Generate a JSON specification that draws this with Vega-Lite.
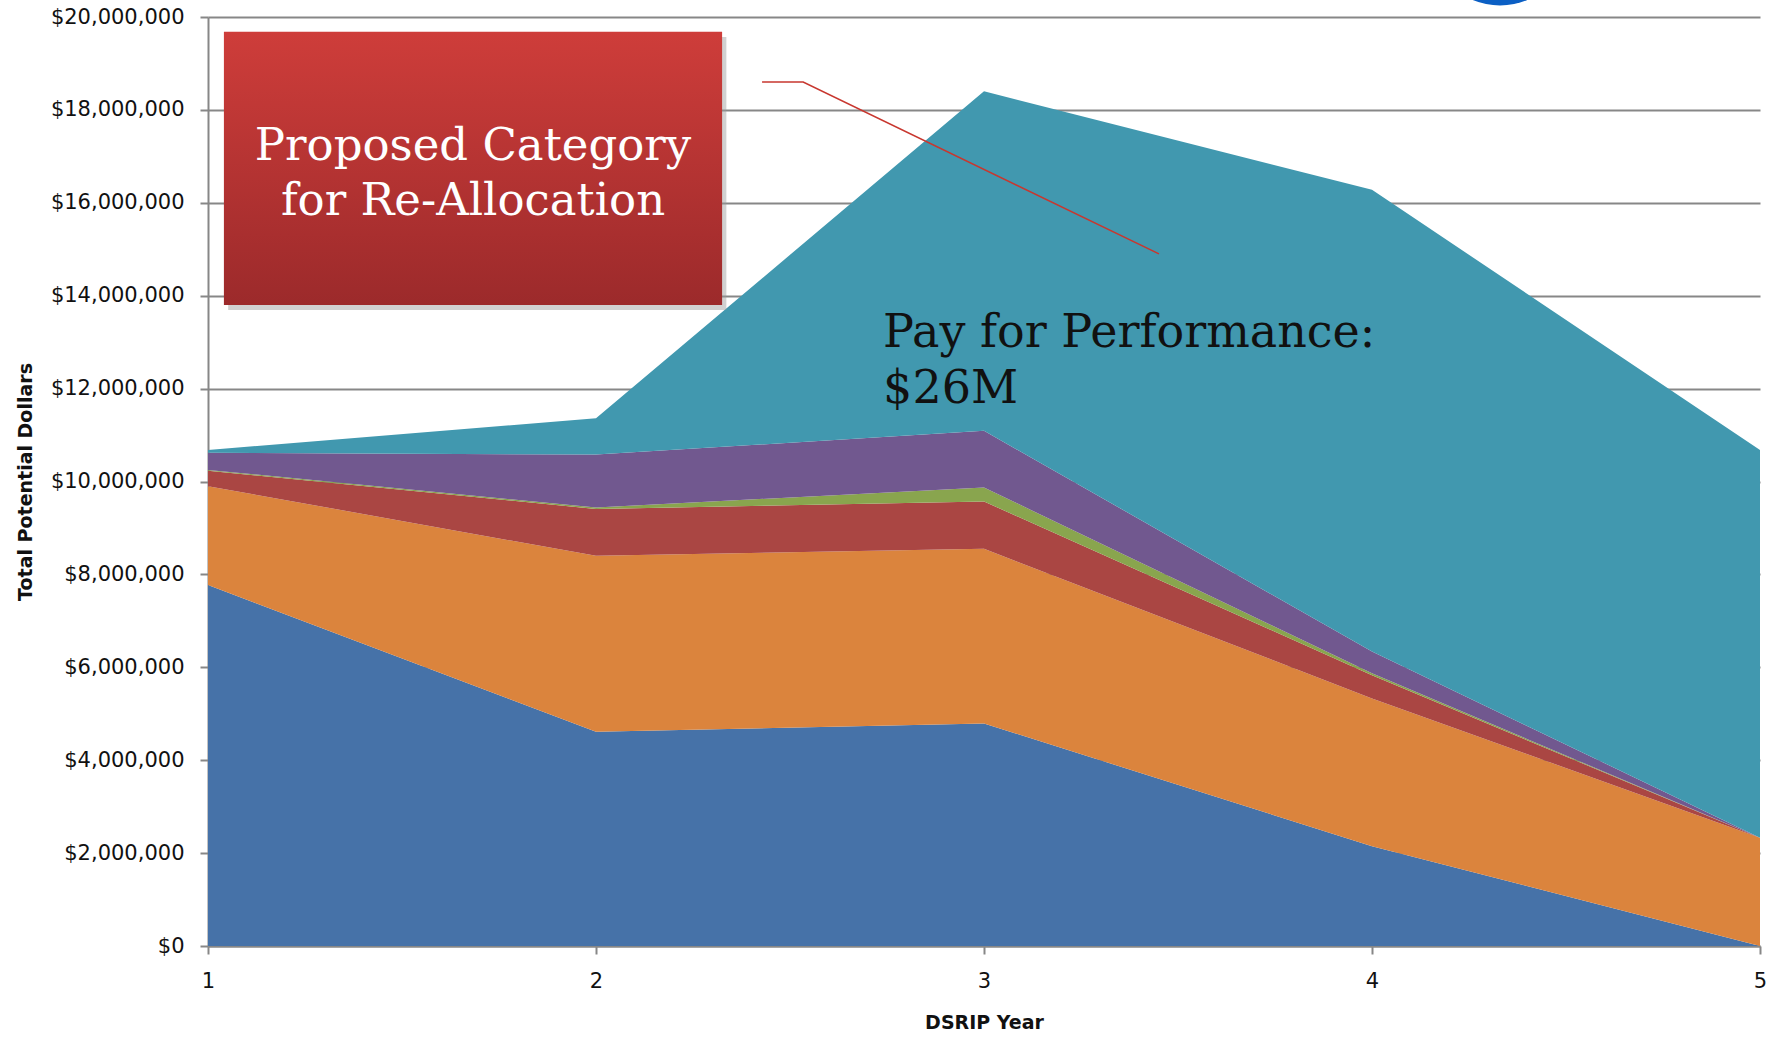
{
  "$schema": "https://vega.github.io/schema/vega-lite/v6.json",
  "autosize": "none",
  "width": 1552,
  "height": 929,
  "padding": {"left": 208, "top": 17, "right": 8, "bottom": 91},
  "background": "white",
  "config": {
    "view": {"stroke": null},
    "axis": {
      "gridColor": "#878787",
      "gridWidth": 2,
      "gridOpacity": 1,
      "domainColor": "#878787",
      "domainWidth": 2,
      "tickColor": "#878787",
      "tickWidth": 2,
      "tickSize": 8,
      "labelFont": "DejaVu Sans",
      "labelFontSize": 21,
      "labelColor": "#111111",
      "labelFlush": false,
      "titleFont": "DejaVu Sans",
      "titleFontSize": 19,
      "titleFontWeight": "bold",
      "titleColor": "#111111"
    }
  },
  "datasets": {
    "funding": [
      {"year": 1, "category": "Series 1", "rank": 1, "value": 7770000},
      {"year": 2, "category": "Series 1", "rank": 1, "value": 4610000},
      {"year": 3, "category": "Series 1", "rank": 1, "value": 4790000},
      {"year": 4, "category": "Series 1", "rank": 1, "value": 2150000},
      {"year": 5, "category": "Series 1", "rank": 1, "value": 0},
      {"year": 1, "category": "Series 2", "rank": 2, "value": 2130000},
      {"year": 2, "category": "Series 2", "rank": 2, "value": 3790000},
      {"year": 3, "category": "Series 2", "rank": 2, "value": 3760000},
      {"year": 4, "category": "Series 2", "rank": 2, "value": 3180000},
      {"year": 5, "category": "Series 2", "rank": 2, "value": 2330000},
      {"year": 1, "category": "Series 3", "rank": 3, "value": 330000},
      {"year": 2, "category": "Series 3", "rank": 3, "value": 1010000},
      {"year": 3, "category": "Series 3", "rank": 3, "value": 1020000},
      {"year": 4, "category": "Series 3", "rank": 3, "value": 500000},
      {"year": 5, "category": "Series 3", "rank": 3, "value": 0},
      {"year": 1, "category": "Series 4", "rank": 4, "value": 20000},
      {"year": 2, "category": "Series 4", "rank": 4, "value": 30000},
      {"year": 3, "category": "Series 4", "rank": 4, "value": 300000},
      {"year": 4, "category": "Series 4", "rank": 4, "value": 40000},
      {"year": 5, "category": "Series 4", "rank": 4, "value": 0},
      {"year": 1, "category": "Series 5", "rank": 5, "value": 370000},
      {"year": 2, "category": "Series 5", "rank": 5, "value": 1140000},
      {"year": 3, "category": "Series 5", "rank": 5, "value": 1220000},
      {"year": 4, "category": "Series 5", "rank": 5, "value": 470000},
      {"year": 5, "category": "Series 5", "rank": 5, "value": 0},
      {"year": 1, "category": "Pay for Performance", "rank": 6, "value": 60000},
      {"year": 2, "category": "Pay for Performance", "rank": 6, "value": 780000},
      {"year": 3, "category": "Pay for Performance", "rank": 6, "value": 7310000},
      {"year": 4, "category": "Pay for Performance", "rank": 6, "value": 9940000},
      {"year": 5, "category": "Pay for Performance", "rank": 6, "value": 8350000}
    ],
    "box": [
      {"x1": 1.041, "x2": 2.325, "y1": 13800000, "y2": 19680000}
    ],
    "boxShadow": [
      {"x1": 1.052, "x2": 2.336, "y1": 13690000, "y2": 19570000}
    ],
    "callout": [
      {"step": 1, "x": 2.428, "y": 18600000},
      {"step": 2, "x": 2.534, "y": 18600000},
      {"step": 3, "x": 3.451, "y": 14900000}
    ],
    "boxText": [
      {"x": 1.683, "y": 16920000, "label": "Proposed Category"},
      {"x": 1.683, "y": 15740000, "label": "for Re-Allocation"}
    ],
    "p4pText": [
      {"x": 2.74, "y": 12900000, "label": "Pay for Performance:"},
      {"x": 2.74, "y": 11700000, "label": "$26M"}
    ],
    "logo": [
      {"x": 4.33, "y": 21800000}
    ]
  },
  "layer": [
    {
      "data": {"name": "funding"},
      "mark": {"type": "area", "interpolate": "linear"},
      "encoding": {
        "x": {
          "field": "year",
          "type": "quantitative",
          "title": "DSRIP Year",
          "scale": {"domain": [1, 5], "nice": false, "zero": false},
          "axis": {
            "values": [1, 2, 3, 4, 5],
            "format": "d",
            "grid": false,
            "labelPadding": 16,
            "titlePadding": 22
          }
        },
        "y": {
          "field": "value",
          "type": "quantitative",
          "title": "Total Potential Dollars",
          "stack": "zero",
          "scale": {"domain": [0, 20000000], "nice": false},
          "axis": {
            "values": [0, 2000000, 4000000, 6000000, 8000000, 10000000, 12000000, 14000000, 16000000, 18000000, 20000000],
            "format": "$,.0f",
            "labelPadding": 16,
            "titlePadding": 15
          }
        },
        "color": {
          "field": "category",
          "type": "nominal",
          "legend": null,
          "scale": {
            "domain": ["Series 1", "Series 2", "Series 3", "Series 4", "Series 5", "Pay for Performance"],
            "range": ["#4672A8", "#DB843D", "#AA4643", "#89A54E", "#71588F", "#4198AF"]
          }
        },
        "order": {"field": "rank", "type": "quantitative"}
      }
    },
    {
      "data": {"name": "boxShadow"},
      "mark": {"type": "rect", "color": "#9a9a9a", "opacity": 0.45},
      "encoding": {
        "x": {"field": "x1", "type": "quantitative", "title": "DSRIP Year"},
        "x2": {"field": "x2"},
        "y": {"field": "y1", "type": "quantitative", "title": "Total Potential Dollars"},
        "y2": {"field": "y2"}
      }
    },
    {
      "data": {"name": "box"},
      "mark": {
        "type": "rect",
        "color": {
          "gradient": "linear",
          "x1": 0, "y1": 0, "x2": 0, "y2": 1,
          "stops": [
            {"offset": 0, "color": "#CE3D3A"},
            {"offset": 1, "color": "#9C2A2B"}
          ]
        }
      },
      "encoding": {
        "x": {"field": "x1", "type": "quantitative", "title": "DSRIP Year"},
        "x2": {"field": "x2"},
        "y": {"field": "y1", "type": "quantitative", "title": "Total Potential Dollars"},
        "y2": {"field": "y2"}
      }
    },
    {
      "data": {"name": "callout"},
      "mark": {"type": "line", "color": "#C8372F", "strokeWidth": 1.6},
      "encoding": {
        "x": {"field": "x", "type": "quantitative", "title": "DSRIP Year"},
        "y": {"field": "y", "type": "quantitative", "title": "Total Potential Dollars"},
        "order": {"field": "step", "type": "quantitative"}
      }
    },
    {
      "data": {"name": "boxText"},
      "mark": {
        "type": "text",
        "font": "DejaVu Serif",
        "fontSize": 45,
        "color": "white",
        "align": "center",
        "baseline": "alphabetic"
      },
      "encoding": {
        "x": {"field": "x", "type": "quantitative", "title": "DSRIP Year"},
        "y": {"field": "y", "type": "quantitative", "title": "Total Potential Dollars"},
        "text": {"field": "label"}
      }
    },
    {
      "data": {"name": "p4pText"},
      "mark": {
        "type": "text",
        "font": "DejaVu Serif",
        "fontSize": 46,
        "color": "#111111",
        "align": "left",
        "baseline": "alphabetic"
      },
      "encoding": {
        "x": {"field": "x", "type": "quantitative", "title": "DSRIP Year"},
        "y": {"field": "y", "type": "quantitative", "title": "Total Potential Dollars"},
        "text": {"field": "label"}
      }
    },
    {
      "data": {"name": "logo"},
      "mark": {"type": "point", "shape": "circle", "filled": true, "color": "#0B5FC4", "opacity": 1, "size": 20736},
      "encoding": {
        "x": {"field": "x", "type": "quantitative", "title": "DSRIP Year"},
        "y": {"field": "y", "type": "quantitative", "title": "Total Potential Dollars"}
      }
    }
  ]
}
